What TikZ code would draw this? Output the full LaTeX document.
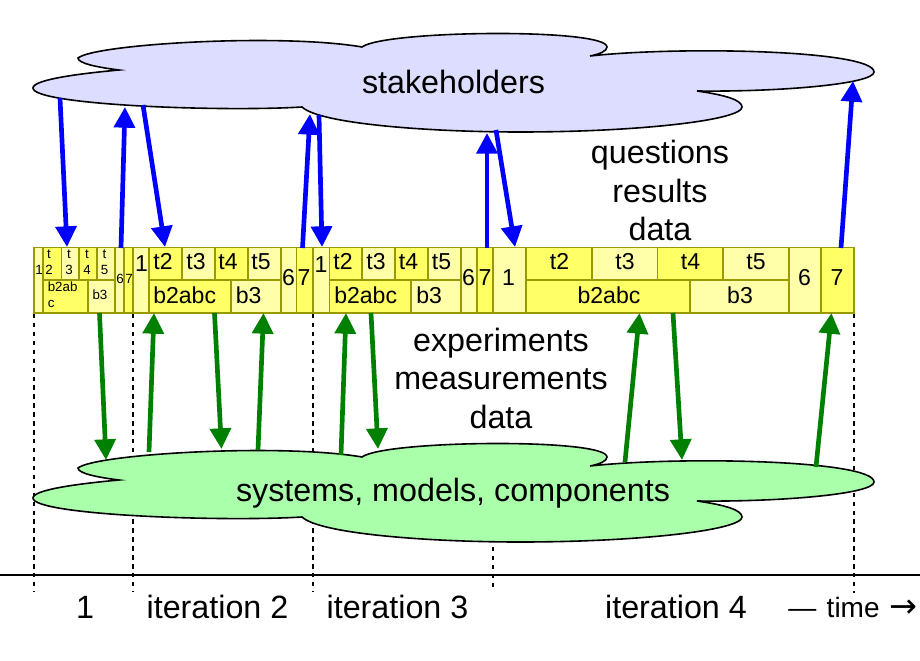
\documentclass[tikz,border=0pt]{standalone}
\usepackage{fontspec}
\setmainfont{Liberation Sans}
\newfontfamily\arrowfont{DejaVu Sans}
\usetikzlibrary{arrows.meta}
\definecolor{cellline}{HTML}{999900}
\definecolor{darkcell}{HTML}{FFFF66}
\definecolor{lightcell}{HTML}{FFFFAA}
\definecolor{skycloud}{HTML}{DDDDFF}
\definecolor{leafcloud}{HTML}{AAFFAA}
\definecolor{flowblue}{HTML}{0000FF}
\definecolor{flowgreen}{HTML}{008000}
\tikzset{
  dk/.style={draw=cellline,line width=1.4pt,fill=darkcell},
  lt/.style={draw=cellline,line width=1.4pt,fill=lightcell},
  cloudshape/.style={draw=black,line width=1.2pt},
  flowarrow/.style={line width=3.5pt,-{Triangle[length=15.5pt,width=15.5pt]}},
  bluearrow/.style={flowarrow,draw=flowblue,fill=flowblue},
  greenarrow/.style={flowarrow,draw=flowgreen,fill=flowgreen},
  milestone/.style={draw=black,line width=2.2pt,dash pattern=on 3.3pt off 3.4pt},
  big/.style={inner sep=0pt,font=\fontsize{24.2}{28.9}\selectfont,align=center},
  mid/.style={inner sep=0pt,font=\fontsize{17.3}{20}\selectfont,align=center},
  tiny/.style={inner sep=0pt,font=\fontsize{10}{12.3}\selectfont,align=center},
}
% \cellbox{id}{x1}{y1}{x2}{y2}{fill style}{text style}{tx}{ty}{text}
\newcommand{\cellbox}[9]{\draw[#6] (#2,#3) rectangle (#4,#5);\cellnode{#1}{#7}{#8}{#9}}
\newcommand{\cellnode}[4]{\node[#2] (#1) at (#3,#4)}
\newcommand{\cloudoutline}{(33,88) .. controls (33,80) and (75,74) .. (119,70)
  .. controls (95,67) and (78,63) .. (78,58)
  .. controls (95,44) and (280,33) .. (362,47)
  .. controls (385,30) and (607,28) .. (607,47)
  .. controls (607,51) and (600,54) .. (590,56)
  .. controls (680,46) and (874,50) .. (874,72)
  .. controls (874,84) and (780,92) .. (697,91)
  .. controls (725,95) and (742,100) .. (742,107)
  .. controls (742,120) and (640,132) .. (520,132)
  .. controls (430,132) and (320,124) .. (302,107)
  .. controls (220,112) and (33,105) .. (33,88) -- cycle}
\begin{document}
\begin{tikzpicture}[x=0.75pt,y=-0.75pt]
\useasboundingbox (0,0) rectangle (920,660);
% time axis and milestones
\coordinate (axisL) at (0,575); \coordinate (axisR) at (920,575);
\draw[black,line width=1.1pt] (axisL) -- (axisR);
\foreach \n/\x/\s/\e in {a/34/314/592,b/133/314/592,c/313/314/592,d/493/538/588,e/854/314/593}{
  \coordinate (top\n) at (\x,\s); \coordinate (bot\n) at (\x,\e);
  \draw[milestone] (top\n) -- (bot\n);
}
% clouds
\draw[cloudshape,fill=skycloud] \cloudoutline;
\draw[cloudshape,fill=leafcloud,shift={(0,410)}] \cloudoutline;
\node[big] (stake) at (453.5,82) {stakeholders};
\node[big] (sys) at (453,493) {systems, models, components};
% iteration 1
\cellbox{a1}{34}{247.5}{43}{313}{lt}{tiny}{39}{270}{1};
\cellbox{at2}{43}{247.5}{61.5}{280}{dk}{tiny}{49}{262}{t\\2};
\cellbox{at3}{61.5}{247.5}{79}{280}{lt}{tiny}{69}{262}{t\\3};
\cellbox{at4}{79}{247.5}{97}{280}{dk}{tiny}{87}{262}{t\\4};
\cellbox{at5}{97}{247.5}{115}{280}{lt}{tiny}{104.5}{262}{t\\5};
\cellbox{ab2}{43}{280}{88}{313}{dk}{tiny,align=left,anchor=west}{47.5}{295}{b2ab\\c};
\cellbox{ab3}{88}{280}{115}{313}{lt}{tiny}{100}{295}{b3};
\cellbox{a6}{115}{247.5}{124}{313}{lt}{tiny}{120}{279}{6};
\cellbox{a7}{124}{247.5}{133}{313}{dk}{tiny}{129}{279}{7};
% iteration 2
\cellbox{b1}{133}{247.5}{149}{313}{lt}{mid}{141.5}{264}{1};
\cellbox{bt2}{149}{247.5}{182}{280}{dk}{mid}{163}{262}{t2};
\cellbox{bt3}{182}{247.5}{215}{280}{lt}{mid}{196}{262}{t3};
\cellbox{bt4}{215}{247.5}{248}{280}{dk}{mid}{228}{262}{t4};
\cellbox{bt5}{248}{247.5}{281}{280}{lt}{mid}{261}{262}{t5};
\cellbox{bb2}{149}{280}{231}{313}{dk}{mid,anchor=west}{153}{295}{b2abc};
\cellbox{bb3}{231}{280}{281}{313}{lt}{mid,anchor=west}{235.5}{295}{b3};
\cellbox{b6}{281}{247.5}{296.5}{313}{lt}{mid}{288.5}{278}{6};
\cellbox{b7}{296.5}{247.5}{313}{313}{dk}{mid}{304}{278}{7};
% iteration 3
\cellbox{c1}{313}{247.5}{329.5}{313}{lt}{mid}{321}{265}{1};
\cellbox{ct2}{329.5}{247.5}{362}{280}{dk}{mid}{343}{262}{t2};
\cellbox{ct3}{362}{247.5}{395}{280}{lt}{mid}{376}{262}{t3};
\cellbox{ct4}{395}{247.5}{428}{280}{dk}{mid}{408.5}{262}{t4};
\cellbox{ct5}{428}{247.5}{461}{280}{lt}{mid}{441.5}{262}{t5};
\cellbox{cb2}{329.5}{280}{411}{313}{dk}{mid,anchor=west}{334}{295}{b2abc};
\cellbox{cb3}{411}{280}{461}{313}{lt}{mid,anchor=west}{416}{295}{b3};
\cellbox{c6}{461}{247.5}{477}{313}{lt}{mid}{468.5}{278}{6};
\cellbox{c7}{477}{247.5}{493}{313}{dk}{mid}{485}{278}{7};
% iteration 4
\cellbox{d1}{493}{247.5}{526}{313}{lt}{mid}{508.5}{278}{1};
\cellbox{dt2}{526}{247.5}{592}{280}{dk}{mid}{559.5}{262}{t2};
\cellbox{dt3}{592}{247.5}{657.5}{280}{lt}{mid}{625}{262}{t3};
\cellbox{dt4}{657.5}{247.5}{723}{280}{dk}{mid}{690.5}{262}{t4};
\cellbox{dt5}{723}{247.5}{789}{280}{lt}{mid}{756}{262}{t5};
\cellbox{db2}{526}{280}{690}{313}{dk}{mid}{609}{295}{b2abc};
\cellbox{db3}{690}{280}{789}{313}{lt}{mid}{740}{295}{b3};
\cellbox{d6}{789}{247.5}{821}{313}{lt}{mid}{804.5}{278}{6};
\cellbox{d7}{821}{247.5}{854}{313}{dk}{mid}{837}{278}{7};
% arrows
\foreach \n/\sx/\sy/\ex/\ey in {1/60/98/67/247,2/121/248/125/107,3/143/105/165/247,4/302.5/248/310/114,
  5/319/115/322/247,6/487/248/487/133,7/496/130/515/247,8/841/248/853/81}{
  \coordinate (bs\n) at (\sx,\sy); \coordinate (be\n) at (\ex,\ey);
  \draw[bluearrow] (bs\n) -- (be\n);
}
\foreach \n/\sx/\sy/\ex/\ey in {1/99.5/313/106/460,2/149/452/154/313,3/214.5/313/221.5/449,4/258/450/263.5/313,
  5/341/455/346/313,6/371/313/378/449,7/625/462/639.5/313,8/673/313/682/460,9/816/467/831.5/313}{
  \coordinate (gs\n) at (\sx,\sy); \coordinate (ge\n) at (\ex,\ey);
  \draw[greenarrow] (gs\n) -- (ge\n);
}
% free labels
\node[big] (q) at (660,190.5) {questions\\results\\data};
\node[big] (x) at (501,378) {experiments\\measurements\\data};
\node[big] (l1) at (85,607) {1};
\node[big] (l2) at (217.5,607) {iteration 2};
\node[big] (l3) at (397.5,607) {iteration 3};
\node[big] (l4) at (676,607) {iteration 4};
\node[inner sep=0pt,font=\fontsize{21}{24}\selectfont,anchor=west] (lt) at (788,607) {—\hspace{2pt} time\hspace{1.5pt} {\arrowfont\fontsize{25}{24}\selectfont →}};
\end{tikzpicture}
\end{document}
